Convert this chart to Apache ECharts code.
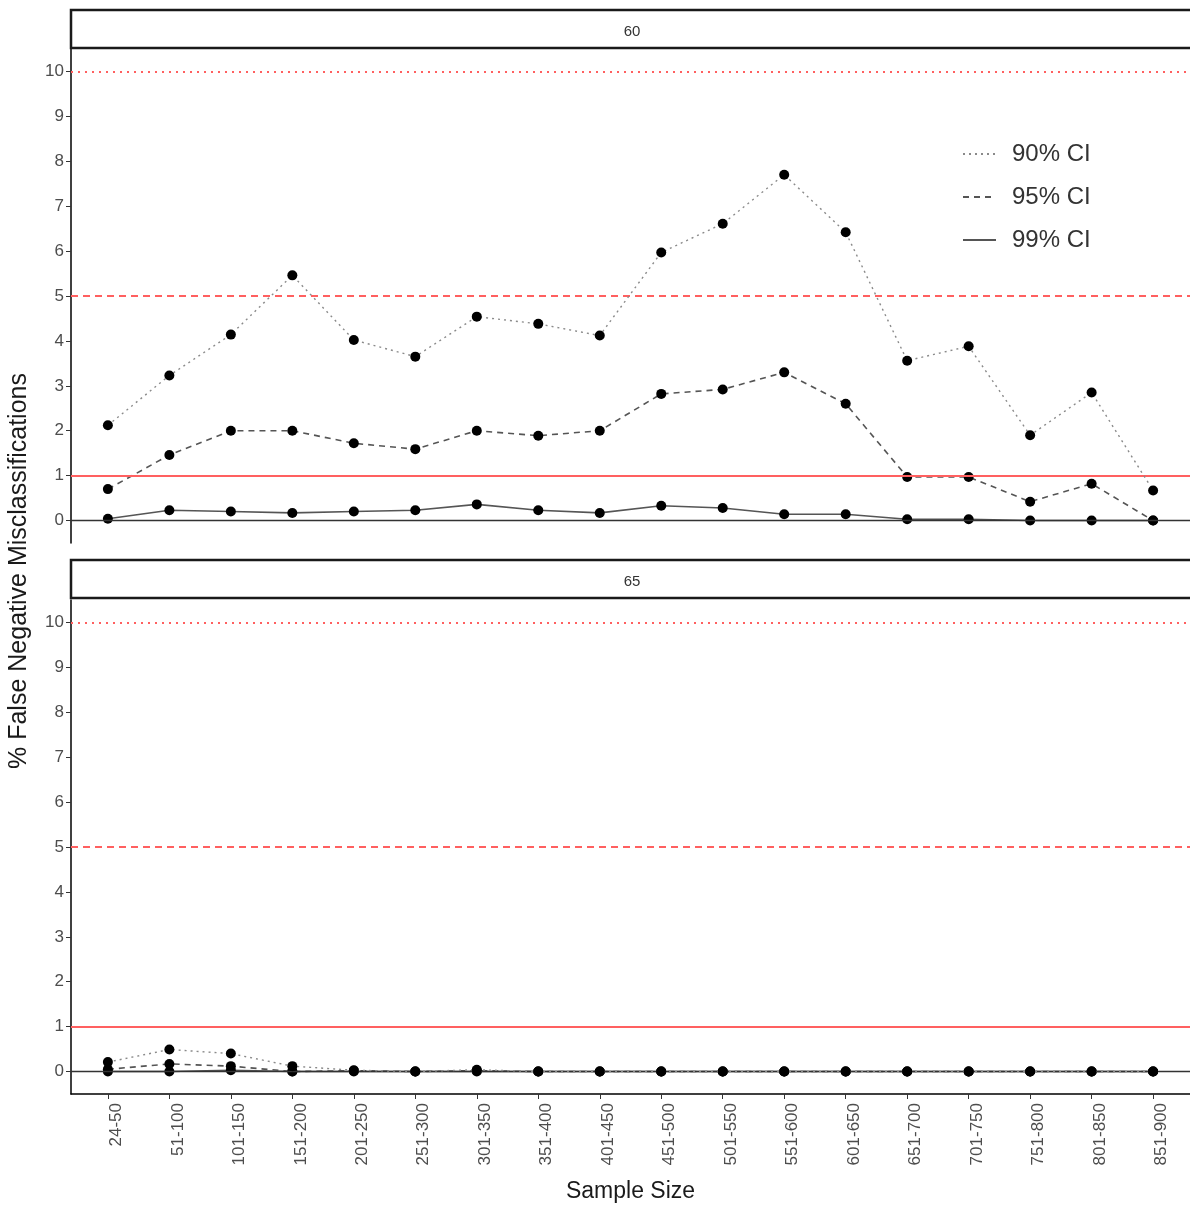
<!DOCTYPE html>
<html>
<head>
<meta charset="utf-8">
<script src="https://cdn.jsdelivr.net/npm/echarts@6/dist/echarts.min.js"></script>
<style>
html,body{margin:0;padding:0;background:#fff;}
#chart{width:1190px;height:1207px;}
</style>
</head>
<body>
<div id="chart"></div>
<script>
const categories = ['24-50','51-100','101-150','151-200','201-250','251-300','301-350','351-400','401-450','451-500','501-550','551-600','601-650','651-700','701-750','751-800','801-850','851-900'];
const yTicks = [0,1,2,3,4,5,6,7,8,9,10];
const panels = ['60','65'];
const seriesNames = ['90% CI','95% CI','99% CI'];

// Panel "60"
const ci90_60 = [2.12, 3.23, 4.14, 5.46, 4.02, 3.65, 4.54, 4.38, 4.12, 5.97, 6.61, 7.70, 6.42, 3.56, 3.88, 1.90, 2.85, 0.67];
const ci95_60 = [0.70, 1.46, 2.00, 2.00, 1.72, 1.59, 2.00, 1.89, 2.00, 2.82, 2.92, 3.30, 2.60, 0.97, 0.97, 0.42, 0.82, 0.00];
const ci99_60 = [0.04, 0.23, 0.20, 0.17, 0.20, 0.23, 0.36, 0.23, 0.17, 0.33, 0.28, 0.14, 0.14, 0.03, 0.03, 0.00, 0.00, 0.00];

// Panel "65"
const ci90_65 = [0.21, 0.49, 0.40, 0.12, 0.03, 0.00, 0.04, 0.00, 0.00, 0.00, 0.00, 0.00, 0.00, 0.00, 0.00, 0.00, 0.00, 0.00];
const ci95_65 = [0.05, 0.17, 0.12, 0.00, 0.02, 0.00, 0.02, 0.00, 0.00, 0.00, 0.00, 0.00, 0.00, 0.00, 0.00, 0.00, 0.00, 0.00];
const ci99_65 = [0.00, 0.00, 0.03, 0.00, 0.00, 0.00, 0.00, 0.00, 0.00, 0.00, 0.00, 0.00, 0.00, 0.00, 0.00, 0.00, 0.00, 0.00];

const refLines = [1, 5, 10];

const chart = echarts.init(document.getElementById('chart'));
const FONT = '"Liberation Sans", Arial, sans-serif';

const gridTops = [49, 600];
const gridH = 494;
const gridLeft = 71;
const gridW = 1123;

const lineStyles = [
  {color: '#8a8a8a', width: 1.4, type: [2, 4]},
  {color: '#555555', width: 1.6, type: [6, 5]},
  {color: '#555555', width: 1.6, type: 'solid'}
];

const allData = [[ci90_60, ci95_60, ci99_60], [ci90_65, ci95_65, ci99_65]];

const grids = gridTops.map(t => ({left: gridLeft, top: t, width: gridW, height: gridH, containLabel: false}));

const xAxes = gridTops.map((t, i) => ({
  type: 'value', gridIndex: i, min: -0.6, max: 17.6,
  axisLine: {show: i === 1, onZero: false, lineStyle: {color: '#000', width: 1.5}},
  axisTick: {show: i === 1, length: 5, customValues: categories.map((c, k) => k), lineStyle: {color: '#333'}},
  axisLabel: {show: i === 1, customValues: categories.map((c, k) => k), rotate: 90, margin: 9,
    formatter: v => categories[Math.round(v)] || '', fontSize: 17, color: '#4d4d4d', fontFamily: FONT, verticalAlign: 'top'},
  splitLine: {show: false},
  name: i === 1 ? 'Sample Size' : '', nameLocation: 'middle', nameGap: 86,
  nameTextStyle: {fontSize: 23, color: '#1a1a1a', fontFamily: FONT}
}));

const yAxes = gridTops.map((t, i) => ({
  type: 'value', gridIndex: i, min: -0.5, max: 10.5,
  axisLine: {show: true, onZero: false, lineStyle: {color: '#000', width: 1.5}},
  axisTick: {show: true, length: 5, customValues: yTicks, lineStyle: {color: '#333'}},
  axisLabel: {show: true, customValues: yTicks, fontSize: 17, color: '#4d4d4d', fontFamily: FONT, margin: 7},
  splitLine: {show: false}
}));

const series = [];
allData.forEach((panelData, p) => {
  panelData.forEach((vals, s) => {
    const ser = {
      name: seriesNames[s], type: 'line', xAxisIndex: p, yAxisIndex: p,
      data: vals.map((v, k) => [k, v]),
      symbol: 'circle', symbolSize: 10,
      itemStyle: {color: '#000'},
      lineStyle: lineStyles[s],
      z: 5 - s, animation: false
    };
    if (s === 2) {
      ser.markLine = {
        silent: true, symbol: 'none', animation: false,
        label: {show: false},
        data: [
          {yAxis: 0, lineStyle: {color: '#333', width: 1.3, type: 'solid'}},
          {yAxis: refLines[0], lineStyle: {color: '#ff6060', width: 2, type: 'solid'}},
          {yAxis: refLines[1], lineStyle: {color: '#ff6060', width: 2, type: [7, 5]}},
          {yAxis: refLines[2], lineStyle: {color: '#ff6060', width: 2, type: [2, 5]}}
        ]
      };
    }
    series.push(ser);
  });
});

const graphics = [];
[10, 560].forEach((y, i) => {
  graphics.push({
    type: 'rect', shape: {x: 71, y: y, width: 1130, height: 38},
    style: {fill: '#fff', stroke: '#1a1a1a', lineWidth: 2.5}, z: 10
  });
  graphics.push({
    type: 'text', x: 632, y: y + 22,
    style: {text: panels[i], fontSize: 15, fill: '#333', fontFamily: FONT, textAlign: 'center', textVerticalAlign: 'middle'}, z: 11
  });
});
graphics.push({
  type: 'text', x: 19, y: 571, rotation: Math.PI / 2,
  style: {text: '% False Negative Misclassifications', fontSize: 25, fill: '#1a1a1a', fontFamily: FONT, textAlign: 'center', textVerticalAlign: 'middle'}
});

chart.setOption({
  backgroundColor: '#fff',
  animation: false,
  grid: grids,
  xAxis: xAxes,
  yAxis: yAxes,
  legend: {
    data: seriesNames, orient: 'vertical', left: 957, top: 136,
    itemWidth: 33, itemHeight: 14, itemGap: 17,
    itemStyle: {opacity: 0},
    textStyle: {fontSize: 24, color: '#333', fontFamily: FONT, lineHeight: 26, padding: [0, 0, 0, 11]}
  },
  graphic: graphics,
  series: series
});
</script>
</body>
</html>
